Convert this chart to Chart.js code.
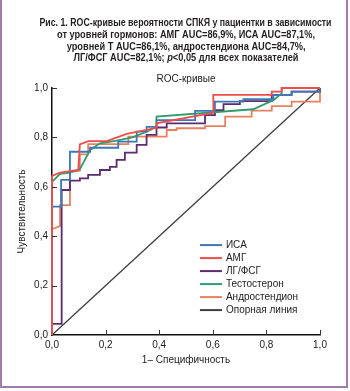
<!DOCTYPE html>
<html>
<head>
<meta charset="utf-8">
<script src="https://cdn.jsdelivr.net/npm/chart.js@4.4.0/dist/chart.umd.min.js"></script>
<style>
  html, body { margin: 0; padding: 0; background: #fff; }
  #wrap { position: relative; width: 350px; height: 391px; overflow: hidden; background: #fff; }
  #frame { position: absolute; left: 0; top: -4px; width: 348px; height: 392px; border: 2px solid #a07ca8; box-sizing: border-box; }
  #chart { position: absolute; left: 0; top: 0; }
  .tline { position: absolute; left: 0; width: 372px; text-align: center; font: bold 10px "Liberation Sans", Arial, sans-serif; color: #231f20; line-height: 12px; white-space: nowrap; }
  .tline span { display: inline-block; transform-origin: center; }
</style>
</head>
<body>
<div id="wrap">
  <div id="frame"></div>
  <canvas id="chart" width="350" height="391"></canvas>
</div>
<script>
// Title lines
const titleLines = [
  "Рис. 1. ROC-кривые вероятности СПКЯ у пациентки в зависимости",
  "от уровней гормонов: АМГ AUC=86,9%, ИСА AUC=87,1%,",
  "уровней Т AUC=86,1%, андростендиона AUC=84,7%,",
  "ЛГ/ФСГ AUC=82,1%; <i>p</i>&lt;0,05 для всех показателей"
];
const titleWidths = [292, 258, 239, 225];
const titleTops = [17, 29, 40.5, 52];

titleLines.forEach((t, i) => {
  const d = document.createElement("div");
  d.className = "tline";
  d.style.top = titleTops[i] + "px";
  d.innerHTML = "<span>" + t + "</span>";
  document.getElementById("wrap").appendChild(d);
  const sp = d.firstChild;
  const w = sp.getBoundingClientRect().width;
  sp.style.transform = "scaleX(" + (titleWidths[i] / w) + ")";
});

// Data: 1 - specificity (x) and sensitivity (y)
const isaX = [0, 0, 0.034, 0.034, 0.067, 0.067, 0.104, 0.142, 0.142, 0.247, 0.247, 0.316, 0.316, 0.353, 0.353, 0.39, 0.39, 0.534, 0.534, 0.608, 0.608, 0.714, 0.714, 0.826, 0.826, 0.894, 0.894, 1, 1];
const isaY = [0, 0.52, 0.52, 0.628, 0.628, 0.742, 0.742, 0.742, 0.758, 0.758, 0.783, 0.783, 0.823, 0.823, 0.843, 0.843, 0.87, 0.87, 0.907, 0.907, 0.945, 0.945, 0.955, 0.955, 0.972, 0.972, 0.985, 0.985, 1];

const amgX = [0, 0, 0.03, 0.098, 0.104, 0.135, 0.204, 0.279, 0.39, 0.39, 0.59, 0.602, 0.602, 0.82, 0.82, 0.857, 0.857, 1];
const amgY = [0, 0.644, 0.657, 0.668, 0.772, 0.785, 0.785, 0.814, 0.839, 0.857, 0.897, 0.9, 0.972, 0.972, 0.985, 0.985, 1, 1];

const lhX = [0, 0, 0.036, 0.036, 0.067, 0.067, 0.104, 0.104, 0.135, 0.135, 0.179, 0.179, 0.216, 0.216, 0.241, 0.241, 0.272, 0.272, 0.316, 0.316, 0.353, 0.353, 0.39, 0.39, 0.428, 0.428, 0.571, 0.571, 0.608, 0.608, 0.64, 0.64, 0.701, 0.701, 0.82, 0.82, 0.894, 0.894, 1, 1];
const lhY = [0, 0.045, 0.045, 0.587, 0.587, 0.625, 0.625, 0.634, 0.634, 0.648, 0.648, 0.668, 0.668, 0.681, 0.681, 0.709, 0.709, 0.738, 0.738, 0.77, 0.77, 0.81, 0.81, 0.84, 0.84, 0.857, 0.857, 0.89, 0.89, 0.91, 0.91, 0.935, 0.935, 0.947, 0.947, 0.972, 0.972, 0.985, 0.985, 1];

const testX = [0, 0, 0.03, 0.067, 0.104, 0.142, 0.179, 0.241, 0.3, 0.36, 0.39, 0.39, 0.751, 0.826, 0.857, 0.857, 1];
const testY = [0, 0.62, 0.652, 0.657, 0.671, 0.749, 0.776, 0.787, 0.8, 0.826, 0.843, 0.884, 0.914, 0.951, 0.978, 1, 1];

const androX = [0, 0, 0.03, 0.03, 0.067, 0.067, 0.104, 0.104, 0.135, 0.135, 0.285, 0.285, 0.428, 0.428, 0.465, 0.465, 0.571, 0.571, 0.646, 0.646, 0.745, 0.745, 0.82, 0.82, 0.894, 0.894, 1, 1];
const androY = [0, 0.428, 0.441, 0.526, 0.526, 0.66, 0.665, 0.731, 0.731, 0.773, 0.773, 0.803, 0.803, 0.83, 0.83, 0.837, 0.837, 0.846, 0.846, 0.884, 0.884, 0.908, 0.908, 0.927, 0.927, 0.945, 0.945, 1];

const refX = [0, 1];
const refY = [0, 1];

const tickValues = [0, 0.2, 0.4, 0.6, 0.8, 1.0];

function pts(xs, ys) {
  return xs.map((x, i) => ({x: x, y: ys[i]}));
}

function curve(label, xs, ys, color, order, width) {
  return {
    label: label,
    data: pts(xs, ys),
    borderColor: color,
    backgroundColor: color,
    borderWidth: width || 1.8,
    pointRadius: 0,
    tension: 0,
    fill: false,
    clip: false,
    order: order
  };
}

const fmt = v => v.toFixed(1).replace(".", ",");

// inward tick marks on both axes
const innerTicks = {
  id: "innerTicks",
  afterDraw(chart) {
    const {ctx, chartArea: a, scales} = chart;
    ctx.save();
    ctx.strokeStyle = "#333";
    ctx.lineWidth = 1;
    tickValues.forEach(v => {
      if (v === 0) return;
      const px = Math.round(scales.x.getPixelForValue(v)) + 0.5;
      const py = Math.round(scales.y.getPixelForValue(v)) + 0.5;
      ctx.beginPath();
      ctx.moveTo(px, a.bottom);
      ctx.lineTo(px, a.bottom - 5);
      ctx.moveTo(a.left, py);
      ctx.lineTo(a.left + 5, py);
      ctx.stroke();
    });
    ctx.restore();
  }
};

// legend inside the plot, lower right
const innerLegend = {
  id: "innerLegend",
  afterDraw(chart) {
    const {ctx, chartArea: a} = chart;
    const w = a.right - a.left, h = a.bottom - a.top;
    const x0 = a.left + 0.552 * w;
    let y = a.top + 0.636 * h;
    ctx.save();
    ctx.font = '10px "Liberation Sans", Arial, sans-serif';
    ctx.textBaseline = "middle";
    chart.data.datasets.forEach(ds => {
      ctx.strokeStyle = ds.borderColor;
      ctx.lineWidth = 2;
      ctx.beginPath();
      ctx.moveTo(x0, y);
      ctx.lineTo(x0 + 22, y);
      ctx.stroke();
      ctx.fillStyle = "#222";
      ctx.fillText(ds.label, x0 + 26, y + 0.5);
      y += 13;
    });
    ctx.restore();
  }
};

new Chart(document.getElementById("chart"), {
  type: "line",
  data: {
    datasets: [
      curve("ИСА", isaX, isaY, "#3b78b6", 1),
      curve("АМГ", amgX, amgY, "#f04d4a", 0),
      curve("ЛГ/ФСГ", lhX, lhY, "#5d2b70", 3),
      curve("Тестостерон", testX, testY, "#2e9c6c", 2),
      curve("Андростендион", androX, androY, "#e8825e", 4),
      curve("Опорная линия", refX, refY, "#3e3e3e", 5, 1.3)
    ]
  },
  options: {
    responsive: false,
    devicePixelRatio: 1,
    animation: false,
    layout: { padding: { left: 0, right: 30, top: 70, bottom: 25 } },
    plugins: {
      legend: { display: false },
      tooltip: { enabled: false },
      title: {
        display: true,
        text: "ROC-кривые",
        fullSize: false,
        color: "#222",
        font: { family: '"Liberation Sans", Arial, sans-serif', size: 10, weight: "normal" },
        padding: { top: 3, bottom: 3 }
      }
    },
    scales: {
      x: {
        type: "linear",
        min: 0, max: 1,
        afterFit: s => { s.height = 31; },
        afterBuildTicks: s => { s.ticks = tickValues.map(v => ({value: v})); },
        ticks: { callback: fmt, padding: 4, color: "#222", maxRotation: 0,
                 font: { family: '"Liberation Sans", Arial, sans-serif', size: 10 } },
        grid: { display: true, drawOnChartArea: false, drawTicks: false },
        border: { color: "#111", width: 1.5 },
        title: { display: true, text: "1– Специфичность", color: "#222",
                 font: { family: '"Liberation Sans", Arial, sans-serif', size: 10 },
                 padding: { top: 0, bottom: 0 } }
      },
      y: {
        min: 0, max: 1,
        afterFit: s => { s.width = 52; },
        afterBuildTicks: s => { s.ticks = tickValues.map(v => ({value: v})); },
        ticks: { callback: fmt, padding: 4, color: "#222",
                 font: { family: '"Liberation Sans", Arial, sans-serif', size: 10 } },
        grid: { display: true, drawOnChartArea: false, drawTicks: false },
        border: { color: "#111", width: 1.5 },
        title: { display: true, text: "Чувствительность", color: "#222",
                 font: { family: '"Liberation Sans", Arial, sans-serif', size: 10 },
                 padding: { top: 16, bottom: 0 } }
      }
    }
  },
  plugins: [innerTicks, innerLegend]
});
</script>
</body>
</html>
